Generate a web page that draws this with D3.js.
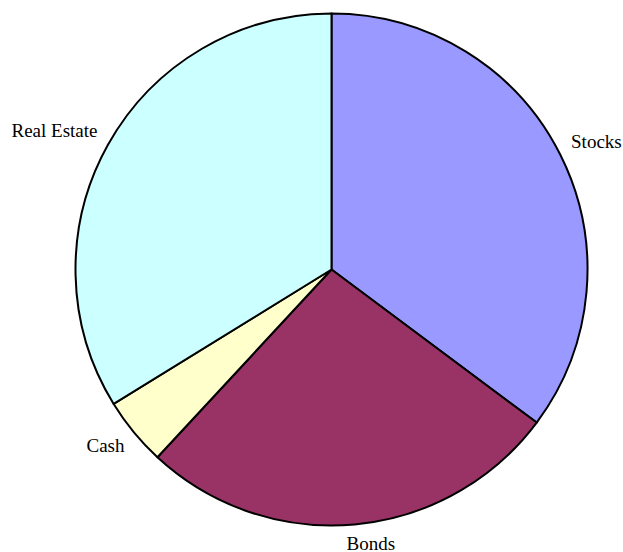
<!DOCTYPE html>
<html>
<head>
<meta charset="utf-8">
<script src="https://cdn.jsdelivr.net/npm/d3@7"></script>
<style>
  body { margin: 0; background: #fff; }
  .lbl { font-family: "Liberation Serif", "Times New Roman", serif; font-size: 19px; fill: #000; }
</style>
</head>
<body>
<div id="chart"></div>
<script>
// slice data, clockwise from 12 o'clock
var categories = ["Stocks", "Bonds", "Cash", "Real Estate"];
var values = [35.2, 26.7, 4.3, 33.8];
var colors = ["#9999ff", "#993366", "#ffffcc", "#ccffff"];

var svgWidth = 623, svgHeight = 552;
var cx = 331.5, cy = 269.5, radius = 256;

var svg = d3.select("#chart").append("svg")
    .attr("width", svgWidth)
    .attr("height", svgHeight);

var g = svg.append("g")
    .attr("transform", `translate(${cx}, ${cy})`);

var pie = d3.pie().sort(null).value(d => d.value);
var data = categories.map((c, i) => ({ name: c, value: values[i], color: colors[i] }));
var arcs = pie(data);

var arc = d3.arc().innerRadius(0).outerRadius(radius);

g.selectAll("path.slice")
    .data(arcs)
    .enter()
    .append("path")
    .attr("class", "slice")
    .attr("d", arc)
    .attr("fill", d => d.data.color)
    .attr("stroke", "#000")
    .attr("stroke-width", 2)
    .attr("stroke-linejoin", "round");

// labels outside the pie, anchored by side
var rx = 268;
function mid(d) { return (d.startAngle + d.endAngle) / 2; }

g.selectAll("text.lbl")
    .data(arcs)
    .enter()
    .append("text")
    .attr("class", "lbl")
    .attr("x", function(d) {
        var s = Math.sin(mid(d));
        // nearly straight down: centre it, nudged right like the original
        return Math.abs(s) < 0.2 ? s * rx + 15 : s * rx;
    })
    .attr("y", function(d) {
        var c = Math.cos(mid(d));
        var ry = 282 + 7 * c;
        return -c * ry;
    })
    .attr("dy", "0.35em")
    .attr("text-anchor", function(d) {
        var s = Math.sin(mid(d));
        if (Math.abs(s) < 0.2) return "middle";
        return s > 0 ? "start" : "end";
    })
    .text(d => d.data.name);
</script>
</body>
</html>
